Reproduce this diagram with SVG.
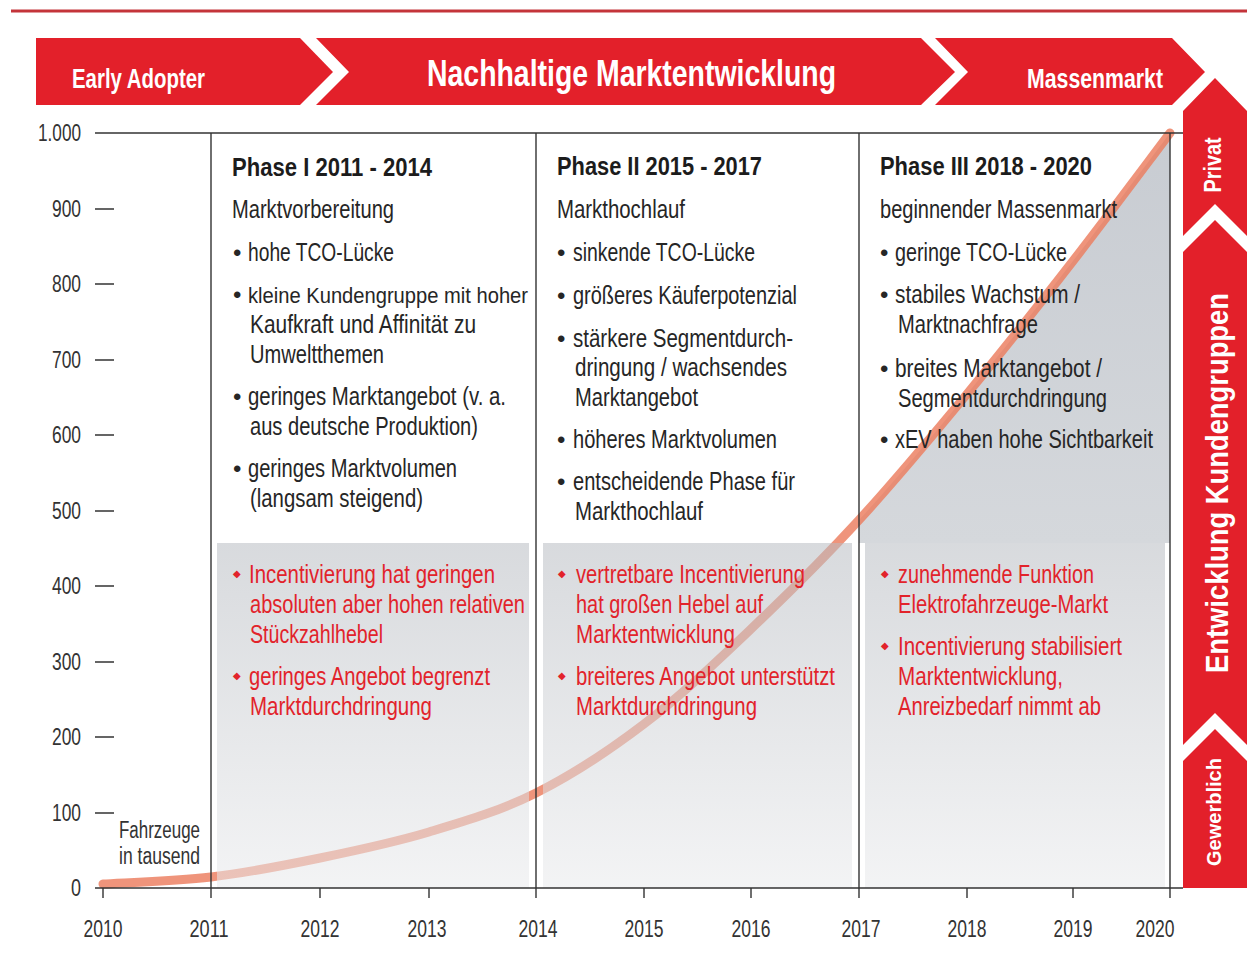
<svg xmlns="http://www.w3.org/2000/svg" width="1247" height="960" viewBox="0 0 1247 960">
<defs>
  <linearGradient id="panelGrad" x1="0" y1="0" x2="0" y2="1">
    <stop offset="0" stop-color="#b8bcc2" stop-opacity="0.55"/>
    <stop offset="1" stop-color="#e9eaec" stop-opacity="0.55"/>
  </linearGradient>
  <linearGradient id="areaGrad" gradientUnits="userSpaceOnUse" x1="0" y1="133" x2="0" y2="543">
    <stop offset="0" stop-color="#c8ccd2"/>
    <stop offset="1" stop-color="#d5d8dc"/>
  </linearGradient>
</defs>
<style>
  .t{font-family:"Liberation Sans",Arial,sans-serif}
  .red{fill:#e3202a}
  .ban{font-weight:bold;fill:#ffffff}
  .hd{font-size:26px;font-weight:bold;fill:#1c1c1c}
  .bd{font-size:25px;fill:#262626}
  .bl{font-size:24px;fill:#262626}
  .rt{font-size:25px;fill:#e2232b}
  .rb{font-family:"DejaVu Sans",sans-serif;font-size:10px;fill:#e2232b}
  .ax{font-size:23px;fill:#333333}
  .ln{stroke:#333333;stroke-width:1.4;fill:none}
  .panel{fill:url(#panelGrad)}
  .curve{fill:none;stroke:#ec7c5e;stroke-width:9;stroke-linecap:round;stroke-opacity:0.82}
</style>
<rect width="1247" height="960" fill="#ffffff"/>
<line x1="11" y1="11" x2="1247" y2="11" stroke="#c4343a" stroke-width="3"/>

<g id="banner">
  <g id="early-adopter">
    <polygon class="red" points="36,38 300,38 333,72 300,105 36,105"/>
    <text class="t ban" x="72" y="88" font-size="27" textLength="133" lengthAdjust="spacingAndGlyphs">Early Adopter</text>
  </g>
  <g id="nachhaltige-marktentwicklung">
    <polygon class="red" points="316,38 921,38 955,72 921,105 316,105 349,72"/>
    <text class="t ban" x="427" y="86" font-size="37" textLength="409" lengthAdjust="spacingAndGlyphs">Nachhaltige Marktentwicklung</text>
  </g>
  <g id="massenmarkt">
    <polygon class="red" points="935,38 1172,38 1205,72 1172,105 935,105 968,72"/>
    <text class="t ban" x="1027" y="88" font-size="27" textLength="136" lengthAdjust="spacingAndGlyphs">Massenmarkt</text>
  </g>
</g>

<g id="kundengruppen">
  <g id="privat">
    <polygon class="red" points="1183,111 1215,78 1247,111 1247,236 1215,204 1183,236"/>
    <text class="t ban" font-size="23" text-anchor="middle" transform="translate(1221,165) rotate(-90)" textLength="55" lengthAdjust="spacingAndGlyphs">Privat</text>
  </g>
  <g id="entwicklung">
    <polygon class="red" points="1183,252 1215,220 1247,252 1247,745 1215,713 1183,745"/>
    <text class="t ban" font-size="31" text-anchor="middle" transform="translate(1228,483) rotate(-90)" textLength="380" lengthAdjust="spacingAndGlyphs">Entwicklung Kundengruppen</text>
  </g>
  <g id="gewerblich">
    <polygon class="red" points="1183,761 1215,729 1247,761 1247,888 1183,888"/>
    <text class="t ban" font-size="21" text-anchor="middle" transform="translate(1221,812) rotate(-90)" textLength="108" lengthAdjust="spacingAndGlyphs">Gewerblich</text>
  </g>
</g>

<g id="area">
  <path d="M859,520 C895,480.8 931.3,437.2 967,394 C1002.7,350.8 1039.2,304.5 1073,261 C1106.8,217.5 1153.8,154.3 1170,133 L1170,543 L859,543 Z" fill="url(#areaGrad)"/>
</g>

<g id="connectors">
  <path class="curve" d="M103,884 C121,882.8 174.8,881.3 211,877 C247.2,872.7 283.7,865.5 320,858 C356.3,850.5 393,842.8 429,832 C465,821.2 500.2,811 536,793 C571.8,775 608.2,751.3 644,724 C679.8,696.7 715.2,663 751,629 C786.8,595 823,559.2 859,520 C895,480.8 931.3,437.2 967,394 C1002.7,350.8 1039.2,304.5 1073,261 C1106.8,217.5 1153.8,154.3 1170,133"/>
</g>

<g id="panels">
  <rect class="panel" x="217" y="543" width="312" height="345"/>
  <rect class="panel" x="543" y="543" width="309" height="345"/>
  <rect class="panel" x="865" y="543" width="300" height="345"/>
</g>

<g id="axes">
  <line class="ln" x1="95" y1="133" x2="1183" y2="133"/>
  <line class="ln" x1="95" y1="888" x2="1183" y2="888"/>
  <line class="ln" x1="211" y1="133" x2="211" y2="898"/>
  <line class="ln" x1="536" y1="133" x2="536" y2="898"/>
  <line class="ln" x1="859" y1="133" x2="859" y2="898"/>
  <line class="ln" x1="1170" y1="133" x2="1170" y2="898"/>
  <path class="ln" d="M103,888V898M320,888V898M429,888V898M644,888V898M751,888V898M967,888V898M1073,888V898"/>
  <path class="ln" d="M95,209H114M95,284H114M95,360H114M95,435H114M95,511H114M95,586H114M95,662H114M95,737H114M95,813H114"/>
  <g class="t ax" text-anchor="end">
    <text x="81" y="141" textLength="43" lengthAdjust="spacingAndGlyphs">1.000</text>
    <text x="81" y="217" textLength="29" lengthAdjust="spacingAndGlyphs">900</text>
    <text x="81" y="292" textLength="29" lengthAdjust="spacingAndGlyphs">800</text>
    <text x="81" y="368" textLength="29" lengthAdjust="spacingAndGlyphs">700</text>
    <text x="81" y="443" textLength="29" lengthAdjust="spacingAndGlyphs">600</text>
    <text x="81" y="519" textLength="29" lengthAdjust="spacingAndGlyphs">500</text>
    <text x="81" y="594" textLength="29" lengthAdjust="spacingAndGlyphs">400</text>
    <text x="81" y="670" textLength="29" lengthAdjust="spacingAndGlyphs">300</text>
    <text x="81" y="745" textLength="29" lengthAdjust="spacingAndGlyphs">200</text>
    <text x="81" y="821" textLength="29" lengthAdjust="spacingAndGlyphs">100</text>
    <text x="81" y="896" textLength="10" lengthAdjust="spacingAndGlyphs">0</text>
  </g>
  <g class="t ax" text-anchor="middle">
    <text x="103" y="937" textLength="39" lengthAdjust="spacingAndGlyphs">2010</text>
    <text x="209" y="937" textLength="39" lengthAdjust="spacingAndGlyphs">2011</text>
    <text x="320" y="937" textLength="39" lengthAdjust="spacingAndGlyphs">2012</text>
    <text x="427" y="937" textLength="39" lengthAdjust="spacingAndGlyphs">2013</text>
    <text x="538" y="937" textLength="39" lengthAdjust="spacingAndGlyphs">2014</text>
    <text x="644" y="937" textLength="39" lengthAdjust="spacingAndGlyphs">2015</text>
    <text x="751" y="937" textLength="39" lengthAdjust="spacingAndGlyphs">2016</text>
    <text x="861" y="937" textLength="39" lengthAdjust="spacingAndGlyphs">2017</text>
    <text x="967" y="937" textLength="39" lengthAdjust="spacingAndGlyphs">2018</text>
    <text x="1073" y="937" textLength="39" lengthAdjust="spacingAndGlyphs">2019</text>
    <text x="1155" y="937" textLength="39" lengthAdjust="spacingAndGlyphs">2020</text>
  </g>
  <text class="t ax" x="119" y="838" font-size="22" textLength="81" lengthAdjust="spacingAndGlyphs">Fahrzeuge</text>
  <text class="t ax" x="119" y="864" font-size="22" textLength="81" lengthAdjust="spacingAndGlyphs">in tausend</text>
</g>

<g id="phase-1" class="t">
  <text class="hd" x="232" y="176" textLength="200" lengthAdjust="spacingAndGlyphs">Phase I 2011 - 2014</text>
  <text class="bd" x="232" y="218" textLength="162" lengthAdjust="spacingAndGlyphs">Marktvorbereitung</text>
  <text class="bl" x="233" y="261">•</text>
  <text class="bd" x="248" y="261" textLength="146" lengthAdjust="spacingAndGlyphs">hohe TCO-Lücke</text>
  <text class="bl" x="233" y="303">•</text>
  <text class="bd" x="248" y="303" style="font-size:22px" textLength="280" lengthAdjust="spacingAndGlyphs">kleine Kundengruppe mit hoher</text>
  <text class="bd" x="250" y="333" textLength="226" lengthAdjust="spacingAndGlyphs">Kaufkraft und Affinität zu</text>
  <text class="bd" x="250" y="363" textLength="134" lengthAdjust="spacingAndGlyphs">Umweltthemen</text>
  <text class="bl" x="233" y="405">•</text>
  <text class="bd" x="248" y="405" textLength="258" lengthAdjust="spacingAndGlyphs">geringes Marktangebot (v. a.</text>
  <text class="bd" x="250" y="435" textLength="228" lengthAdjust="spacingAndGlyphs">aus deutsche Produktion)</text>
  <text class="bl" x="233" y="477">•</text>
  <text class="bd" x="248" y="477" textLength="209" lengthAdjust="spacingAndGlyphs">geringes Marktvolumen</text>
  <text class="bd" x="250" y="507" textLength="173" lengthAdjust="spacingAndGlyphs">(langsam steigend)</text>
  <text class="rb" x="233" y="577">◆</text>
  <text class="rt" x="249" y="583" textLength="246" lengthAdjust="spacingAndGlyphs">Incentivierung hat geringen</text>
  <text class="rt" x="250" y="613" textLength="275" lengthAdjust="spacingAndGlyphs">absoluten aber hohen relativen</text>
  <text class="rt" x="250" y="643" textLength="133" lengthAdjust="spacingAndGlyphs">Stückzahlhebel</text>
  <text class="rb" x="233" y="679">◆</text>
  <text class="rt" x="249" y="685" textLength="241" lengthAdjust="spacingAndGlyphs">geringes Angebot begrenzt</text>
  <text class="rt" x="250" y="715" textLength="182" lengthAdjust="spacingAndGlyphs">Marktdurchdringung</text>
</g>

<g id="phase-2" class="t">
  <text class="hd" x="557" y="175" textLength="205" lengthAdjust="spacingAndGlyphs">Phase II 2015 - 2017</text>
  <text class="bd" x="557" y="218" textLength="128" lengthAdjust="spacingAndGlyphs">Markthochlauf</text>
  <text class="bl" x="557" y="261">•</text>
  <text class="bd" x="573" y="261" textLength="182" lengthAdjust="spacingAndGlyphs">sinkende TCO-Lücke</text>
  <text class="bl" x="557" y="304">•</text>
  <text class="bd" x="573" y="304" textLength="224" lengthAdjust="spacingAndGlyphs">größeres Käuferpotenzial</text>
  <text class="bl" x="557" y="347">•</text>
  <text class="bd" x="573" y="347" textLength="220" lengthAdjust="spacingAndGlyphs">stärkere Segmentdurch-</text>
  <text class="bd" x="575" y="376" textLength="212" lengthAdjust="spacingAndGlyphs">dringung / wachsendes</text>
  <text class="bd" x="575" y="406" textLength="123" lengthAdjust="spacingAndGlyphs">Marktangebot</text>
  <text class="bl" x="557" y="448">•</text>
  <text class="bd" x="573" y="448" textLength="204" lengthAdjust="spacingAndGlyphs">höheres Marktvolumen</text>
  <text class="bl" x="557" y="490">•</text>
  <text class="bd" x="573" y="490" textLength="222" lengthAdjust="spacingAndGlyphs">entscheidende Phase für</text>
  <text class="bd" x="575" y="520" textLength="128" lengthAdjust="spacingAndGlyphs">Markthochlauf</text>
  <text class="rb" x="558" y="577">◆</text>
  <text class="rt" x="576" y="583" textLength="229" lengthAdjust="spacingAndGlyphs">vertretbare Incentivierung</text>
  <text class="rt" x="576" y="613" textLength="187" lengthAdjust="spacingAndGlyphs">hat großen Hebel auf</text>
  <text class="rt" x="576" y="643" textLength="159" lengthAdjust="spacingAndGlyphs">Marktentwicklung</text>
  <text class="rb" x="558" y="679">◆</text>
  <text class="rt" x="576" y="685" textLength="259" lengthAdjust="spacingAndGlyphs">breiteres Angebot unterstützt</text>
  <text class="rt" x="576" y="715" textLength="181" lengthAdjust="spacingAndGlyphs">Marktdurchdringung</text>
</g>

<g id="phase-3" class="t">
  <text class="hd" x="880" y="175" textLength="212" lengthAdjust="spacingAndGlyphs">Phase III 2018 - 2020</text>
  <text class="bd" x="880" y="218" textLength="237" lengthAdjust="spacingAndGlyphs">beginnender Massenmarkt</text>
  <text class="bl" x="880" y="261">•</text>
  <text class="bd" x="895" y="261" textLength="172" lengthAdjust="spacingAndGlyphs">geringe TCO-Lücke</text>
  <text class="bl" x="880" y="303">•</text>
  <text class="bd" x="895" y="303" textLength="185" lengthAdjust="spacingAndGlyphs">stabiles Wachstum /</text>
  <text class="bd" x="898" y="333" textLength="140" lengthAdjust="spacingAndGlyphs">Marktnachfrage</text>
  <text class="bl" x="880" y="377">•</text>
  <text class="bd" x="895" y="377" textLength="207" lengthAdjust="spacingAndGlyphs">breites Marktangebot /</text>
  <text class="bd" x="898" y="407" textLength="209" lengthAdjust="spacingAndGlyphs">Segmentdurchdringung</text>
  <text class="bl" x="880" y="448">•</text>
  <text class="bd" x="895" y="448" textLength="258" lengthAdjust="spacingAndGlyphs">xEV haben hohe Sichtbarkeit</text>
  <text class="rb" x="881" y="577">◆</text>
  <text class="rt" x="898" y="583" textLength="196" lengthAdjust="spacingAndGlyphs">zunehmende Funktion</text>
  <text class="rt" x="898" y="613" textLength="210" lengthAdjust="spacingAndGlyphs">Elektrofahrzeuge-Markt</text>
  <text class="rb" x="881" y="649">◆</text>
  <text class="rt" x="898" y="655" textLength="224" lengthAdjust="spacingAndGlyphs">Incentivierung stabilisiert</text>
  <text class="rt" x="898" y="685" textLength="165" lengthAdjust="spacingAndGlyphs">Marktentwicklung,</text>
  <text class="rt" x="898" y="715" textLength="203" lengthAdjust="spacingAndGlyphs">Anreizbedarf nimmt ab</text>
</g>
</svg>
